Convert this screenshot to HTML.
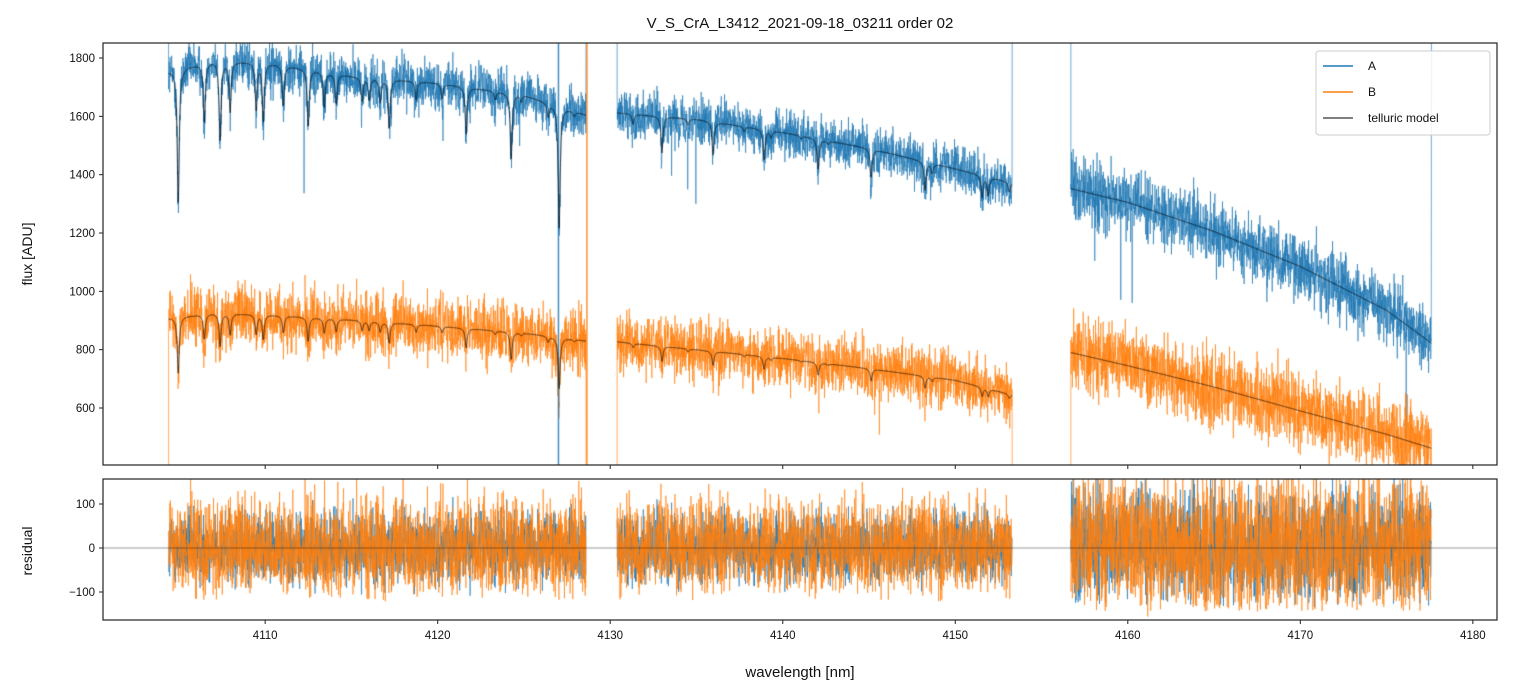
<!DOCTYPE html>
<html><head><meta charset="utf-8"><style>
body{margin:0;background:#fff;width:1513px;height:696px;overflow:hidden;position:relative;font-family:"Liberation Sans","DejaVu Sans",sans-serif}
canvas{position:absolute;left:0;top:0}
svg{position:absolute;left:0;top:0}
</style></head><body>
<canvas id="c" width="1513" height="696"></canvas>
<svg id="s" width="1513" height="696"></svg>
<script>
// ---- data ----
const segments = [[4104.4,4128.6],[4130.4,4153.3],[4156.7,4177.6]];
const contAx = [4104.4,4107,4110,4115,4120,4125,4128.6, 4130.4,4135,4140,4145,4150,4153.3, 4156.7,4160,4165,4170,4175,4177.6];
const contA  = [1755,1790,1785,1738,1714,1673,1605, 1612,1590,1545,1490,1420,1372, 1352,1305,1205,1085,935,822];
const contB  = [908,925,920,902,881,857,830, 827,800,770,735,695,645, 790,745,672,590,510,462];
const lineC = [4104.96,4106.47,4107.39,4107.97,4109.48,4109.89,4111.05,4112.49,4113.42,4114.12,4115.62,4116.03,4116.67,4117.19,4118.75,4120.26,4121.65,4123.33,4124.26,4124.84,4126.40,4127.04,4127.91,
 4131.33,4133.0,4134.51,4135.96,4137.76,4138.92,4139.32,4141.06,4142.05,4142.63,4145.12,4148.25,4148.66,4151.56,4151.91,4153.13];
const lineD = [457,200,268,171,160,200,137,194,120,103,80,75,80,166,63,51,160,29,223,23,46,417,17,
 34,125,23,114,17,103,23,11,103,11,97,97,34,74,63,34];
const xTicks = [4110,4120,4130,4140,4150,4160,4170,4180];
const yTicks = [600,800,1000,1200,1400,1600,1800];
const rTicks = [-100,0,100];
// ---- axes ----
const X0=103,X1=1497, MT=43,MB=465, RT=479,RB=620;
const xmin=4100.6,xmax=4181.4, ymin=404.6,ymax=1851.4, rmin=-163.6,rmax=156.8;
const sx=v=>X0+(v-xmin)/(xmax-xmin)*(X1-X0);
const sy=v=>MB-(v-ymin)/(ymax-ymin)*(MB-MT);
const sr=v=>RB-(v-rmin)/(rmax-rmin)*(RB-RT);
const gapIdx=[6,12];
function cont(arr,x){for(let i=0;i<contAx.length-1;i++){if(gapIdx.includes(i))continue;if(x>=contAx[i]-0.01&&x<=contAx[i+1]+0.01){const t=(x-contAx[i])/(contAx[i+1]-contAx[i]);return arr[i]+t*(arr[i+1]-arr[i]);}}return arr[0];}
function model(arr,x,scale){let v=cont(arr,x);for(let i=0;i<lineC.length;i++){const d=(x-lineC[i])/0.07;v-=lineD[i]*scale/(1+d*d);}return v;}
// texture noise (seeded)
let seed=12345;function rnd(){seed=(seed*1664525+1013904223)>>>0;return seed/4294967296;}
function gauss(){return (rnd()+rnd()+rnd()+rnd()-2)*1.73;}
const c=document.getElementById('c').getContext('2d');
function clip(t,b){c.save();c.beginPath();c.rect(X0,t,X1-X0,b-t);c.clip();}
const step=0.011;
const series=[{arr:contA,sc:1,col:'rgba(31,119,180,0.8)',n:[40,38,55],sp:0.003},{arr:contB,sc:0.42,col:'rgba(255,127,14,0.8)',n:[50,48,62],sp:0.001}];
const resid=[[],[]];
clip(MT,MB);
series.forEach((s,k)=>{
 c.strokeStyle=s.col;c.lineWidth=0.8;
 segments.forEach((g,gi)=>{c.beginPath();let first=true;
  for(let x=g[0];x<=g[1];x+=step){let n=gauss()*s.n[gi];if(rnd()<s.sp)n-=120+rnd()*250;
   const v=model(s.arr,x,s.sc)+n;resid[k].push([x,n,gi]);
   if(first){c.moveTo(sx(x),sy(k?400:1900));first=false;}c.lineTo(sx(x),sy(v));}
  c.lineTo(sx(g[1]),sy(k?400:1900));c.stroke();});
});
// spikes
c.lineWidth=1.5;c.strokeStyle='rgba(31,119,180,0.85)';[4127.0].forEach(x=>{c.beginPath();c.moveTo(sx(x),MT);c.lineTo(sx(x),MB);c.stroke();});
c.strokeStyle='rgba(255,127,14,0.85)';[4128.65].forEach(x=>{c.beginPath();c.moveTo(sx(x),MT);c.lineTo(sx(x),MB);c.stroke();});
// model
c.strokeStyle='rgba(0,0,0,0.65)';c.lineWidth=1;
series.forEach(s=>segments.forEach(g=>{c.beginPath();for(let x=g[0];x<=g[1];x+=0.005){const v=model(s.arr,x,s.sc);x===g[0]?c.moveTo(sx(x),sy(v)):c.lineTo(sx(x),sy(v));}c.stroke();}));
c.restore();
// residuals
clip(RT,RB);
[0,1].forEach(k=>{c.strokeStyle=series[k].col;c.lineWidth=0.8;let last=-1;c.beginPath();
 resid[k].forEach(p=>{let n=p[1];if(n<-110)n=gauss()*40;n*=(k?1.1:1.0)*(p[2]==2?1.2:1);if(p[2]!==last){c.stroke();c.beginPath();c.moveTo(sx(p[0]),sr(n));last=p[2];}else c.lineTo(sx(p[0]),sr(n));});c.stroke();});
c.strokeStyle='rgba(0,0,0,0.5)';c.lineWidth=0.8;c.beginPath();c.moveTo(X0,sr(0));c.lineTo(X1,sr(0));c.stroke();
c.restore();
// ---- svg overlay ----
const S=document.getElementById('s');const NS='http://www.w3.org/2000/svg';
function el(t,a,txt){const e=document.createElementNS(NS,t);for(const k in a)e.setAttribute(k,a[k]);if(txt!==undefined)e.textContent=txt;S.appendChild(e);return e;}
let e;
e=el('rect',{x:X0,y:MT,width:X1-X0,height:MB-MT,fill:'none',stroke:'#222','stroke-width':1.2});


e=el('rect',{x:X0,y:RT,width:X1-X0,height:RB-RT,fill:'none',stroke:'#222','stroke-width':1.2});


xTicks.forEach(v=>{const x=sx(v);
 el('line',{x1:x,x2:x,y1:MB,y2:MB+4,stroke:'#222'});el('line',{x1:x,x2:x,y1:RB,y2:RB+4,stroke:'#222'});
 e=el('text',{x:x,y:RB+19,'font-size':11.5,'text-anchor':'middle',fill:'#111'},String(v));
 
 });
yTicks.forEach(v=>{const y=sy(v);el('line',{x1:X0-4,x2:X0,y1:y,y2:y,stroke:'#222'});
 e=el('text',{x:X0-8,y:y+4,'font-size':11.5,'text-anchor':'end',fill:'#111'},String(v));
 
 });
rTicks.forEach(v=>{const y=sr(v);el('line',{x1:X0-4,x2:X0,y1:y,y2:y,stroke:'#222'});
 e=el('text',{x:X0-8,y:y+4,'font-size':11.5,'text-anchor':'end',fill:'#111'},v<0?'\u2212'+(-v):String(v));
 
 });
e=el('text',{x:800,y:28,'font-size':15,'text-anchor':'middle',fill:'#111'},'V_S_CrA_L3412_2021-09-18_03211  order 02');


e=el('text',{x:0,y:0,'font-size':14,'text-anchor':'middle',fill:'#111',transform:'translate(32,254) rotate(-90)'},'flux [ADU]');


e=el('text',{x:0,y:0,'font-size':14,'text-anchor':'middle',fill:'#111',transform:'translate(32,551) rotate(-90)'},'residual');


e=el('text',{x:800,y:677,'font-size':15,'text-anchor':'middle',fill:'#111'},'wavelength [nm]');


e=el('rect',{x:1316,y:51,width:174,height:84,rx:3,fill:'rgba(255,255,255,0.85)',stroke:'#ccc'});


[['A','#1f77b4'],['B','#ff7f0e'],['telluric model','#555']].forEach((l,i)=>{const y=66+i*26;
 el('line',{x1:1323,x2:1353,y1:y,y2:y,stroke:l[1],'stroke-width':1.5});
 e=el('text',{x:1368,y:y+4,'font-size':12,fill:'#111'},l[0]);
 
 });
</script>
</body></html>
